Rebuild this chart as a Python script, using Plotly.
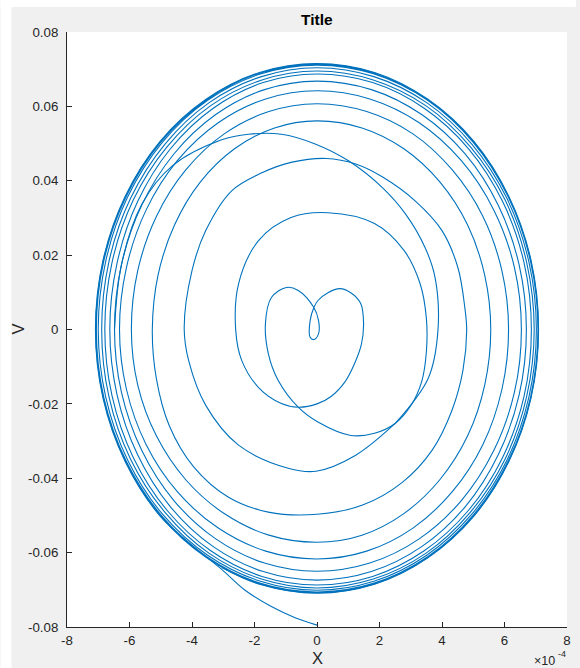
import plotly.graph_objects as go

# ---- data (x in units of 1e-4, v) ----
heart_loop = [(2.51,-0.0252),(1.84,-0.0279),(1.08,-0.0285),(0.03,-0.0249),(-0.60,-0.0209),
    (-1.24,-0.0137),(-1.56,-0.0064),(-1.65,0.0016),(-1.46,0.0086),(-0.98,0.0113),(-0.60,0.0105),
    (-0.10,0.0059),(0.05,0.0024),(0.05,-0.0011),(-0.10,-0.0027),(-0.22,-0.0021),(-0.22,0.0024),
    (-0.10,0.0059),(0.03,0.0078),(0.35,0.0099),(0.73,0.0110),(1.08,0.0099),(1.40,0.0070),
    (1.49,0.0016),(1.42,-0.0040),(1.21,-0.0090),(0.90,-0.0140),(0.45,-0.0180),(0.0,-0.0200),
    (-0.60,-0.0209),(-1.14,-0.0199),(-1.87,-0.0156),(-2.41,-0.0083),(-2.60,-0.0003),
    (-2.51,0.0123),(-1.87,0.0239),(-0.83,0.0301),(0.35,0.0314),(1.84,0.0285),(2.79,0.0212),
    (3.30,0.0123),(3.50,0.0030),(3.50,-0.0060),(3.35,-0.0140),(3.0,-0.0205),(2.51,-0.0252)]

ring2 = [(2.51,-0.0252),(1.24,-0.0338),(-0.03,-0.0381),(-0.92,-0.0373),(-2.51,-0.0311),
    (-3.56,-0.0204),(-4.10,-0.0086),(-4.25,0.0003),(-4.0,0.0158),(-3.56,0.0266),(-2.73,0.0373),
    (-1.80,0.0420),(-0.80,0.0450),(0.30,0.0460),(1.24,0.0445),(2.10,0.0410),(3.14,0.0346),
    (4.0,0.0266),(4.51,0.0166),(4.73,0.0059),(4.79,-0.0003),(4.67,-0.011),(4.32,-0.0217),
    (3.68,-0.0325),(2.73,-0.0411),(1.46,-0.0472),(0,-0.0497),(-1.56,-0.0491),(-2.83,-0.0451),
    (-3.94,-0.037),(-4.73,-0.0258),(-5.14,-0.0132),(-5.27,0),
    (-5.09,0.0145),(-4.56,0.0281),(-3.73,0.0397),(-2.64,0.0486),(-1.36,0.0542)]

ring4 = [(0,0.0561),(1.44,0.0542),(2.78,0.0486),(3.93,0.0397),(4.82,0.0281),(5.37,0.0145),
    (5.56,0),(5.37,-0.0148),(4.82,-0.0286),(3.93,-0.0404),(2.78,-0.0495),(1.44,-0.0553),
    (0,-0.0572),(-1.54,-0.0553),(-2.97,-0.0495),(-4.20,-0.0404),(-5.14,-0.0286),(-5.74,-0.0148),
    (-5.94,0),(-5.74,0.0157),(-5.14,0.0304),(-4.20,0.0429),(-2.97,0.0526),(-1.54,0.0586)]
ring5 = [(0,0.0607),(1.59,0.0586),(3.07,0.0526),(4.33,0.0429),(5.31,0.0304),(5.92,0.0157),
    (6.13,0),(5.92,-0.0160),(5.31,-0.0309),(4.33,-0.0436),(3.07,-0.0534),(1.59,-0.0596),
    (0,-0.0617),(-1.64,-0.0596),(-3.16,-0.0534),(-4.47,-0.0436),(-5.47,-0.0309),(-6.10,-0.0160),
    (-6.32,0),(-6.10,0.0166),(-5.47,0.0321),(-4.47,0.0454),(-3.16,0.0556),(-1.64,0.0620)]
ring6 = [(0,0.0642),(1.69,0.0620),(3.27,0.0556),(4.62,0.0454),(5.66,0.0321),(6.32,0.0166),
    (6.54,0),(6.32,-0.0168),(5.66,-0.0325),(4.62,-0.0460),(3.27,-0.0563),(1.69,-0.0628),
    (0,-0.0650),(-1.68,-0.0628),(-3.24,-0.0563),(-4.58,-0.0460),(-5.61,-0.0325),(-6.26,-0.0168),
    (-6.48,0),(-6.26,0.0173),(-5.61,0.0334),(-4.58,0.0472),(-3.24,0.0578),(-1.68,0.0645)]
ring7 = [(0,0.0668),(1.74,0.0645),(3.35,0.0578),(4.74,0.0472),(5.80,0.0334),(6.47,0.0173),
    (6.70,0),(6.47,-0.0175),(5.80,-0.0337),(4.74,-0.0477),(3.35,-0.0584),(1.74,-0.0651),
    (0,-0.0674),(-1.72,-0.0651),(-3.32,-0.0584),(-4.69,-0.0477),(-5.74,-0.0337),(-6.40,-0.0175),
    (-6.63,0),(-6.40,0.0178),(-5.74,0.0344),(-4.69,0.0486),(-3.32,0.0595),(-1.72,0.0664)]
ring8 = [(0,0.0687),(1.78,0.0664),(3.43,0.0595),(4.85,0.0486),(5.94,0.0344),(6.63,0.0178),
    (6.86,0),(6.63,-0.0178),(5.94,-0.0344),(4.85,-0.0486),(3.43,-0.0595),(1.78,-0.0664),
    (0,-0.0687),(-1.76,-0.0664),(-3.40,-0.0595),(-4.80,-0.0486),(-5.88,-0.0344),(-6.56,-0.0178),
    (-6.79,0),(-6.56,0.0180),(-5.88,0.0348),(-4.80,0.0491),(-3.40,0.0602),(-1.76,0.0671)]
ring9 = [(0,0.0695),(1.80,0.0671),(3.48,0.0602),(4.91,0.0491),(6.02,0.0348),(6.71,0.0180),
    (6.95,0),(6.71,-0.0180),(6.02,-0.0348),(4.91,-0.0491),(3.48,-0.0602),(1.80,-0.0671),
    (0,-0.0695),(-1.78,-0.0671),(-3.45,-0.0602),(-4.87,-0.0491),(-5.97,-0.0348),(-6.66,-0.0180),
    (-6.89,0),(-6.66,0.0182),(-5.97,0.0352),(-4.87,0.0498),(-3.45,0.0610),(-1.78,0.0680)]
ring10 = [(0,0.0704),(1.82,0.0680),(3.51,0.0610),(4.96,0.0498),(6.08,0.0352),(6.78,0.0182),
    (7.02,0),(6.78,-0.0182),(6.08,-0.0351),(4.96,-0.0496),(3.51,-0.0607),(1.82,-0.0677),
    (0,-0.0701),(-1.81,-0.0677),(-3.50,-0.0607),(-4.95,-0.0496),(-6.06,-0.0351),(-6.76,-0.0182),
    (-7.00,0),(-6.76,0.0184),(-6.06,0.0356),(-4.95,0.0503),(-3.50,0.0616),(-1.81,0.0687)]
ring11 = [(0,0.0711),(1.83,0.0687),(3.54,0.0616),(5.00,0.0503),(6.12,0.0356),(6.83,0.0184),
    (7.07,0),(6.83,-0.0183),(6.12,-0.0353),(5.00,-0.0499),(3.54,-0.0611),(1.83,-0.0682),
    (0,-0.0706),(-1.83,-0.0682),(-3.53,-0.0611),(-4.99,-0.0499),(-6.11,-0.0353),(-6.82,-0.0183),
    (-7.06,0),(-6.82,0.0185),(-6.11,0.0357),(-4.99,0.0505),(-3.53,0.0618),(-1.83,0.0690)]
ring12 = [(0,0.0714),(1.83,0.0690),(3.54,0.0618),(5.01,0.0505),(6.13,0.0357),(6.84,0.0185),
    (7.08,0),(6.84,-0.0183),(6.13,-0.0354),(5.01,-0.0501),(3.54,-0.0613),(1.83,-0.0684),
    (0,-0.0708),(-1.83,-0.0684),(-3.54,-0.0613),(-5.01,-0.0501),(-6.13,-0.0354),(-6.84,-0.0183),
    (-7.08,0),(-6.84,0.0185),(-6.13,0.0357),(-5.01,0.0505),(-3.54,0.0618),(-1.83,0.0690),(0,0.0714)]

tilted_arc = [(-6.48,0),(-6.26,0.0173),(-5.61,0.0336),(-4.63,0.0440),(-3.05,0.0510),
    (-2.19,0.0525),(-1.14,0.0525),(-0.06,0.0499),(1.02,0.0453),(2.10,0.0381),(2.83,0.0311),
    (3.46,0.0220),(3.78,0.0139),(3.87,-0.0003),(3.56,-0.0131),(2.51,-0.0252)]

outer_tail = [(0,-0.0795),(-0.70,-0.0775),(-1.46,-0.0745),(-2.29,-0.0702),(-3.05,-0.0645),
    (-4.0,-0.0580),(-5.02,-0.0502),(-6.14,-0.0355),(-6.85,-0.0184),(-7.09,0),(-6.85,0.0185),
    (-6.14,0.0358),(-5.02,0.0506),(-3.55,0.0619),(-1.84,0.0691),(0,0.0715),(1.84,0.0691),
    (3.55,0.0619),(5.02,0.0506),(6.14,0.0358),(6.85,0.0186),(7.09,0),(6.85,-0.0184),
    (6.14,-0.0355),(5.02,-0.0502),(3.55,-0.0614),(1.84,-0.0685),(0,-0.0709),(-1.84,-0.0685),(-3.05,-0.0640)]

x_ticks = [-8, -6, -4, -2, 0, 2, 4, 6, 8]
v_ticks = [-0.08, -0.06, -0.04, -0.02, 0, 0.02, 0.04, 0.06, 0.08]
v_tick_labels = ["-0.08", "-0.06", "-0.04", "-0.02", "0", "0.02", "0.04", "0.06", "0.08"]

spiral = ring2 + ring4 + ring5 + ring6 + ring7 + ring8 + ring9 + ring10 + ring11 + ring12
pieces = [heart_loop, spiral, tilted_arc, outer_tail]

fig = go.Figure()
for p in pieces:
    fig.add_trace(go.Scatter(x=[a for a, b in p], y=[b for a, b in p], mode="lines",
                             line=dict(color="#0072BD", width=1.1, shape="spline", smoothing=1.0),
                             showlegend=False, hoverinfo="skip"))

FONT = "Liberation Sans, Arial, sans-serif"
W, H = 580, 668
L, R, T, B = 67, 571, 32, 627

def px(xp):
    return (xp - L) / (R - L)

def py(yp):
    return (B - yp) / (B - T)

TICKFONT = dict(size=13.3, color="#262626", family=FONT)

fig.update_layout(
    width=W, height=H,
    margin=dict(l=L, r=W - R, t=T, b=H - B, pad=0),
    paper_bgcolor="#f0f0f0", plot_bgcolor="white",
    font=dict(family=FONT, size=13, color="#262626"),
    xaxis=dict(range=[-8, 8], tickvals=x_ticks, ticktext=[str(t) for t in x_ticks],
               ticks="inside", ticklen=5, tickcolor="#262626", showline=True,
               linecolor="#262626", linewidth=1, showgrid=False, zeroline=False,
               mirror=False, tickfont=TICKFONT, ticklabelstandoff=1),
    yaxis=dict(range=[-0.08, 0.08], tickvals=v_ticks, ticktext=v_tick_labels,
               ticks="inside", ticklen=5, tickcolor="#262626", showline=True,
               linecolor="#262626", linewidth=1, showgrid=False, zeroline=False,
               mirror=False, tickfont=TICKFONT, ticklabelstandoff=5),
    shapes=[
        dict(type="rect", xref="paper", yref="paper", x0=px(0), x1=px(11), y0=py(H), y1=py(0),
             fillcolor="white", line=dict(width=0), layer="above"),
        dict(type="rect", xref="paper", yref="paper", x0=px(0), x1=px(W), y0=py(7), y1=py(0),
             fillcolor="white", line=dict(width=0), layer="above"),
    ],
    annotations=[
        dict(text="Title", xref="paper", yref="paper", x=px(319), y=py(19),
             showarrow=False, font=dict(size=15.5, color="#000000", family=FONT, weight="bold"),
             xanchor="center", yanchor="middle"),
        dict(text="X", xref="paper", yref="paper", x=px(319), y=py(658),
             showarrow=False, font=dict(size=16.5, color="#262626", family=FONT),
             xanchor="center", yanchor="middle"),
        dict(text="V", xref="paper", yref="paper", x=px(18), y=py(329), textangle=-90,
             showarrow=False, font=dict(size=16.5, color="#262626", family=FONT),
             xanchor="center", yanchor="middle"),
        dict(text="×10", xref="paper", yref="paper", x=px(561), y=py(661),
             showarrow=False, font=dict(size=12.5, color="#262626", family=FONT),
             xanchor="right", yanchor="middle"),
        dict(text="-4", xref="paper", yref="paper", x=px(560), y=py(654),
             showarrow=False, font=dict(size=9, color="#262626", family=FONT),
             xanchor="left", yanchor="middle"),
    ],
)

fig.write_html("out.html")
